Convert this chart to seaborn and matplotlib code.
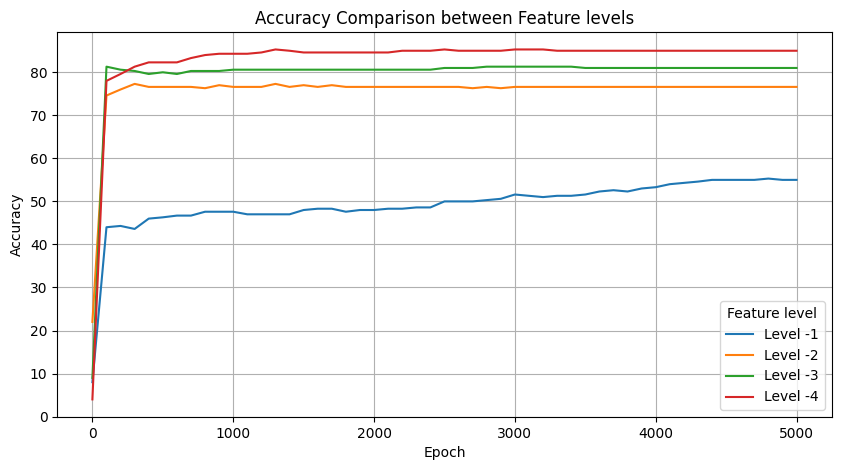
import pandas as pd
import seaborn as sns
import matplotlib.pyplot as plt

epochs = list(range(0, 5001, 100))

level_1 = [8, 44, 44.3, 43.6, 46, 46.3, 46.7, 46.7, 47.6, 47.6, 47.6, 47, 47, 47, 47,
           48, 48.3, 48.3, 47.6, 48, 48, 48.3, 48.3, 48.6, 48.6, 50, 50, 50, 50.3, 50.6,
           51.6, 51.3, 51, 51.3, 51.3, 51.6, 52.3, 52.6, 52.3, 53, 53.3, 54, 54.3, 54.6,
           55, 55, 55, 55, 55.3, 55, 55]
level_2 = [22, 74.6, 76, 77.3, 76.6, 76.6, 76.6, 76.6, 76.3, 77, 76.6, 76.6, 76.6, 77.3,
           76.6, 77, 76.6, 77, 76.6, 76.6, 76.6, 76.6, 76.6, 76.6, 76.6, 76.6, 76.6, 76.3,
           76.6, 76.3] + [76.6] * 21
level_3 = [9, 81.3, 80.6, 80.3, 79.6, 80, 79.6, 80.3, 80.3, 80.3] + [80.6] * 15 \
    + [81, 81, 81] + [81.3] * 7 + [81] * 16
level_4 = [4, 78, 79.6, 81.3, 82.3, 82.3, 82.3, 83.3, 84, 84.3, 84.3, 84.3, 84.6, 85.3,
           85, 84.6, 84.6, 84.6, 84.6, 84.6, 84.6, 84.6, 85, 85, 85, 85.3, 85, 85, 85, 85,
           85.3, 85.3, 85.3] + [85] * 18

df = pd.DataFrame({'Epoch': epochs, 'Level -1': level_1, 'Level -2': level_2,
                   'Level -3': level_3, 'Level -4': level_4})
df = df.melt(id_vars='Epoch', var_name='Feature level', value_name='Accuracy')

fig, ax = plt.subplots(figsize=(8.41, 4.7), dpi=100)
sns.lineplot(data=df, x='Epoch', y='Accuracy', hue='Feature level', ax=ax)
ax.set_title('Accuracy Comparison between Feature levels')
ax.grid(True)
ax.legend(title='Feature level', loc='lower right')
fig.subplots_adjust(left=0.068, right=0.989, top=0.932, bottom=0.113)
plt.savefig('out.png')
